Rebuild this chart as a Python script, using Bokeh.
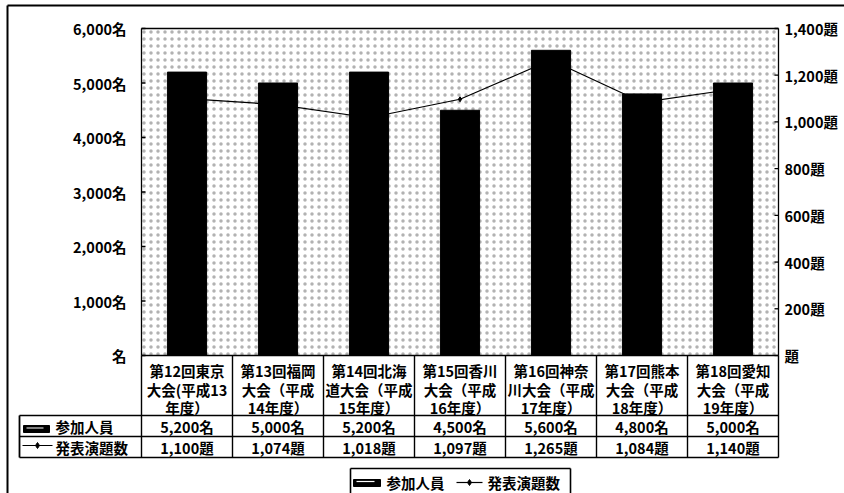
from bokeh.plotting import figure
from bokeh.models import Range1d, ColumnDataSource
from bokeh.core.properties import value
from bokeh.embed import file_html
from bokeh.resources import INLINE

# ---------------- data ----------------
categories = [
    "第12回東京\n大会(平成13\n年度）",
    "第13回福岡\n大会（平成\n14年度）",
    "第14回北海\n道大会（平成\n15年度）",
    "第15回香川\n大会（平成\n16年度）",
    "第16回神奈\n川大会（平成\n17年度）",
    "第17回熊本\n大会（平成\n18年度）",
    "第18回愛知\n大会（平成\n19年度）",
]
participants = [5200, 5000, 5200, 4500, 5600, 4800, 5000]
presentations = [1100, 1074, 1018, 1097, 1265, 1084, 1140]
series_names = ["参加人員", "発表演題数"]
left_ticks = [0, 1000, 2000, 3000, 4000, 5000, 6000]
left_tick_labels = ["名", "1,000名", "2,000名", "3,000名", "4,000名", "5,000名", "6,000名"]
right_ticks = [0, 200, 400, 600, 800, 1000, 1200, 1400]
right_tick_labels = ["題", "200題", "400題", "600題", "800題", "1,000題", "1,200題", "1,400題"]
participant_labels = [f"{v:,}名" for v in participants]
presentation_labels = [f"{v:,}題" for v in presentations]

# ---------------- layout (pixels) ----------------
W, H = 844, 493
PL, PR, PT, PB = 141, 778, 28, 355
N = len(categories)
cw = (PR - PL) / N
LMAX, RMAX = left_ticks[-1], right_ticks[-1]
ph = PB - PT

FONT = value("Noto Sans CJK JP")
FS = "14.5px"

p = figure(
    width=W, height=H,
    x_range=Range1d(-PL / cw, (W - PL) / cw),
    y_range=Range1d(-(H - PB) * LMAX / ph, LMAX + PT * LMAX / ph),
    output_backend="svg", toolbar_location=None, tools="",
    min_border=0, x_axis_location=None, y_axis_location=None,
)
p.extra_y_ranges = {
    "r": Range1d(-(H - PB) * RMAX / ph, RMAX + PT * RMAX / ph),
    "py": Range1d(H, 0),
}
p.extra_x_ranges = {"px": Range1d(0, W)}
p.outline_line_color = None
p.background_fill_color = "white"
p.border_fill_color = "white"
for g in p.grid:
    g.visible = False

# plot-area texture
p.quad(left=[0], right=[N], bottom=[0], top=[LMAX], fill_color="white",
       line_color=None, hatch_pattern="dot", hatch_color="black",
       hatch_alpha=0.3, hatch_scale=7, hatch_weight=0.5)

xs = [i + 0.5 for i in range(N)]
src = ColumnDataSource(dict(x=xs, part=participants, pres=presentations,
                            pl=participant_labels, prl=presentation_labels,
                            l1=[c.split("\n")[0] for c in categories],
                            l2=[c.split("\n")[1] for c in categories],
                            l3=[c.split("\n")[2] for c in categories]))

# bars
p.vbar(x="x", top="part", bottom=0, width=0.43, source=src,
       fill_color="black", line_color="black")
# line
p.line(x="x", y="pres", source=src, y_range_name="r", line_color="black", line_width=1.2)
p.scatter(x="x", y="pres", source=src, y_range_name="r", marker="diamond",
          size=5, fill_color="black", line_color="black")

# plot area frame
p.segment(x0=[0, N, 0], y0=[0, 0, LMAX], x1=[0, N, N], y1=[LMAX, LMAX, LMAX],
          line_color="black", line_width=1.3)

# ticks
p.segment(x0=[PL] * len(left_ticks), x1=[PL + 4] * len(left_ticks),
          y0=left_ticks, y1=left_ticks, x_range_name="px", line_color="black", line_width=1.3)
p.segment(x0=[PR - 4] * len(right_ticks), x1=[PR] * len(right_ticks),
          y0=right_ticks, y1=right_ticks, x_range_name="px", y_range_name="r",
          line_color="black", line_width=1.3)

# tick labels
p.text(x=[126] * len(left_ticks), y=left_ticks, text=left_tick_labels, x_range_name="px",
       text_align="right", text_baseline="middle", text_font=FONT,
       text_font_size=FS, text_font_style="bold", text_color="black")
p.text(x=[784] * len(right_ticks), y=right_ticks, text=right_tick_labels, x_range_name="px",
       y_range_name="r", text_align="left", text_baseline="middle", text_font=FONT,
       text_font_size=FS, text_font_style="bold", text_color="black")

# ---------------- data table ----------------
TL = 19
R1, R2, R3, R4 = PB, 415, 436, 457
# horizontal lines
p.segment(x0=[PL, TL, TL, TL], x1=[PR, PR, PR, PR], y0=[R1, R2, R3, R4], y1=[R1, R2, R3, R4],
          x_range_name="px", y_range_name="py", line_color="black", line_width=1.6)
# vertical lines (column dividers)
p.segment(x0=list(range(N + 1)), x1=list(range(N + 1)), y0=[R1] * (N + 1), y1=[R4] * (N + 1),
          y_range_name="py", line_color="black", line_width=1.4)
p.segment(x0=[TL], x1=[TL], y0=[R2], y1=[R4], x_range_name="px", y_range_name="py",
          line_color="black", line_width=1.8)

tkw = dict(y_range_name="py", text_align="center", text_baseline="middle",
           text_font=FONT, text_font_size=FS, text_font_style="bold", text_color="black")
p.text(x="x", y=370, text="l1", source=src, **tkw)
p.text(x="x", y=389, text="l2", source=src, **tkw)
p.text(x="x", y=407, text="l3", source=src, **tkw)
p.text(x="x", y=426, text="pl", source=src, **tkw)
p.text(x="x", y=447, text="prl", source=src, **tkw)

hkw = dict(x_range_name="px", y_range_name="py", text_align="left", text_baseline="middle",
           text_font=FONT, text_font_size=FS, text_font_style="bold", text_color="black")
# row headers
p.quad(left=[23], right=[49], top=[425], bottom=[432], x_range_name="px", y_range_name="py",
       fill_color="black", line_color="black")
p.segment(x0=[26], x1=[43], y0=[427.5], y1=[427.5], x_range_name="px", y_range_name="py",
          line_color="white", line_width=1.2)
p.text(x=[55], y=[426], text=[series_names[0]], **hkw)
p.segment(x0=[22], x1=[52], y0=[445], y1=[445], x_range_name="px", y_range_name="py",
          line_color="black", line_width=1.2)
p.scatter(x=[37], y=[445], marker="diamond", size=6, x_range_name="px", y_range_name="py",
          fill_color="black", line_color="black")
p.text(x=[55], y=[447], text=[series_names[1]], **hkw)

# ---------------- legend ----------------
p.segment(x0=[350, 350, 570], x1=[570, 350, 570], y0=[468, 468, 468], y1=[468, 493, 493],
          x_range_name="px", y_range_name="py", line_color="black", line_width=1.6)
p.quad(left=[353], right=[380], top=[479], bottom=[486], x_range_name="px", y_range_name="py",
       fill_color="black", line_color="black")
p.segment(x0=[356], x1=[374], y0=[481], y1=[481], x_range_name="px", y_range_name="py",
          line_color="white", line_width=1.2)
p.text(x=[386], y=[482], text=[series_names[0]], **hkw)
p.segment(x0=[456], x1=[482], y0=[482], y1=[482], x_range_name="px", y_range_name="py",
          line_color="black", line_width=1.2)
p.scatter(x=[469], y=[482], marker="diamond", size=6, x_range_name="px", y_range_name="py",
          fill_color="black", line_color="black")
p.text(x=[487], y=[482], text=[series_names[1]], **hkw)

# ---------------- outer chart border ----------------
p.segment(x0=[7, 7], x1=[W, 7], y0=[5, 5], y1=[5, H], x_range_name="px", y_range_name="py",
          line_color="black", line_width=2)

open("out.html", "w").write(file_html(p, INLINE))
